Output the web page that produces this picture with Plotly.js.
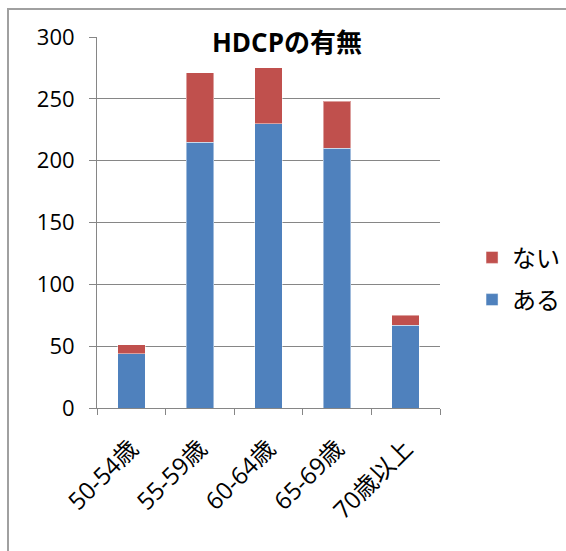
<!DOCTYPE html>
<html>
<head>
<meta charset="utf-8">
<script src="https://cdn.plot.ly/plotly-3.0.1.min.js"></script>
<style>
  html, body { margin: 0; padding: 0; background: #fff; }
  #frame { position: absolute; left: 7px; top: 8px; width: 580px; height: 560px;
           border-top: 2px solid #a0a0a0; border-left: 2px solid #a0a0a0; box-sizing: border-box; }
  #chart { position: absolute; left: 0; top: 0; width: 566px; height: 551px; }
</style>
</head>
<body>
<div id="frame"></div>
<div id="chart"></div>
<script>
const categories = ["50-54歳", "55-59歳", "60-64歳", "65-69歳", "70歳以上"];
const seriesNames = ["ある", "ない"];
const aruValues = [44, 215, 230, 210, 67];
const naiValues = [7, 56, 45, 38, 8];
const yTickVals = [0, 50, 100, 150, 200, 250, 300];
const titleText = "HDCPの有無";

const FONT = "'Open Sans', 'Noto Sans CJK JP', sans-serif";

const traces = [
  { type: "bar", name: seriesNames[0], legendgroup: "a", legendrank: 2, x: categories, y: aruValues,
    marker: { color: "#4F81BD", line: { color: "rgba(255,255,255,0.45)", width: 1 } } },
  { type: "bar", name: seriesNames[1], legendgroup: "b", legendrank: 1, x: categories, y: naiValues,
    marker: { color: "#C0504D", line: { color: "rgba(255,255,255,0.45)", width: 1 } } }
];

const layout = {
  width: 566, height: 551,
  paper_bgcolor: "rgba(0,0,0,0)", plot_bgcolor: "rgba(0,0,0,0)",
  margin: { l: 97, r: 126, t: 37, b: 143, autoexpand: false },
  barmode: "stack",
  bargap: 0.6,
  font: { family: FONT, color: "#000" },
  title: { text: "<b>" + titleText + "</b>", font: { size: 26, family: FONT, color: "#000" },
           xref: "container", x: 0.507, xanchor: "center",
           yref: "container", y: 0.922, yanchor: "middle" },
  xaxis: {
    type: "category",
    tickangle: -45,
    tickson: "boundaries",
    ticks: "outside", ticklen: 6, tickcolor: "#868686", tickwidth: 1,
    showline: true, linecolor: "#868686", linewidth: 1,
    showgrid: false,
    ticklabelstandoff: 16,
    tickfont: { size: 24, family: FONT }
  },
  yaxis: {
    range: [0, 300],
    tickvals: yTickVals,
    ticks: "outside", ticklen: 7, tickcolor: "#868686", tickwidth: 1,
    showline: true, linecolor: "#868686", linewidth: 1,
    showgrid: true, gridcolor: "#868686", gridwidth: 1,
    zeroline: false,
    ticklabelstandoff: 10,
    tickfont: { size: 22, family: FONT }
  },
  legend: {
    xref: "container", yref: "container",
    x: 0.834, xanchor: "left", y: 0.494, yanchor: "middle",
    traceorder: "grouped",
    tracegroupgap: 8,
    font: { size: 24, family: FONT },
    bgcolor: "rgba(0,0,0,0)",
    itemwidth: 30
  },
  showlegend: true
};

Plotly.newPlot("chart", traces, layout, { displayModeBar: false, staticPlot: true });
</script>
</body>
</html>
